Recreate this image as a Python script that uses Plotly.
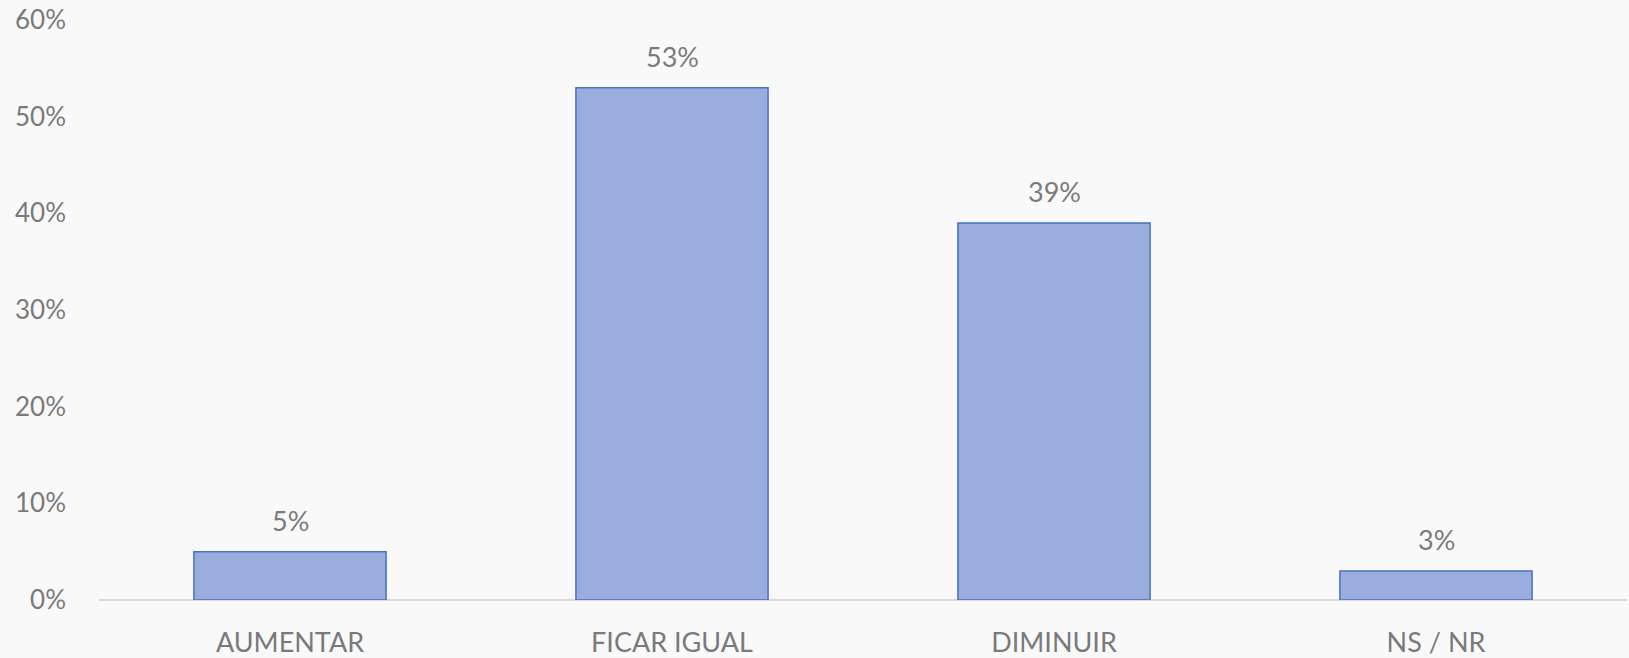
import plotly.graph_objects as go

categories = ["AUMENTAR", "FICAR IGUAL", "DIMINUIR", "NS / NR"]
values = [5, 53, 39, 3]
tick_vals = [0, 10, 20, 30, 40, 50, 60]
tick_text = ["0%", "10%", "20%", "30%", "40%", "50%", "60%"]

FONT = "Lato, 'Open Sans', sans-serif"
GRAY = "#7a7a7a"

fig = go.Figure()
fig.add_trace(go.Bar(
    x=categories, y=values,
    marker=dict(color="#9badde", line=dict(color="#4472c4", width=1.5)),
    hoverinfo="skip",
))
for c, v in zip(categories, values):
    fig.add_annotation(x=c, y=v, text=f"{v}%", showarrow=False, yanchor="bottom",
                       yshift=13, font=dict(family=FONT, size=27, color=GRAY))

fig.update_layout(
    width=1629, height=658,
    margin=dict(l=99, r=2, t=20, b=58),
    paper_bgcolor="#f9f9fa", plot_bgcolor="rgba(0,0,0,0)",
    bargap=0.497, showlegend=False,
    font=dict(family=FONT, size=25, color=GRAY),
)
fig.update_xaxes(showgrid=False, showline=False, zeroline=False, ticks="", automargin=False,
                 ticklabelstandoff=24, tickfont=dict(family=FONT, size=27, color=GRAY))
fig.update_yaxes(range=[0, 60], tickvals=tick_vals, ticktext=tick_text, showgrid=False,
                 zeroline=True, zerolinecolor="#d9d9d9", zerolinewidth=1.5, automargin=False,
                 ticks="", ticklabelstandoff=32, tickfont=dict(family=FONT, size=26, color=GRAY))
fig.write_html("out.html", config={"displayModeBar": False},
               post_script="document.body.style.margin='0';document.body.style.background='#f9f9fa';")
